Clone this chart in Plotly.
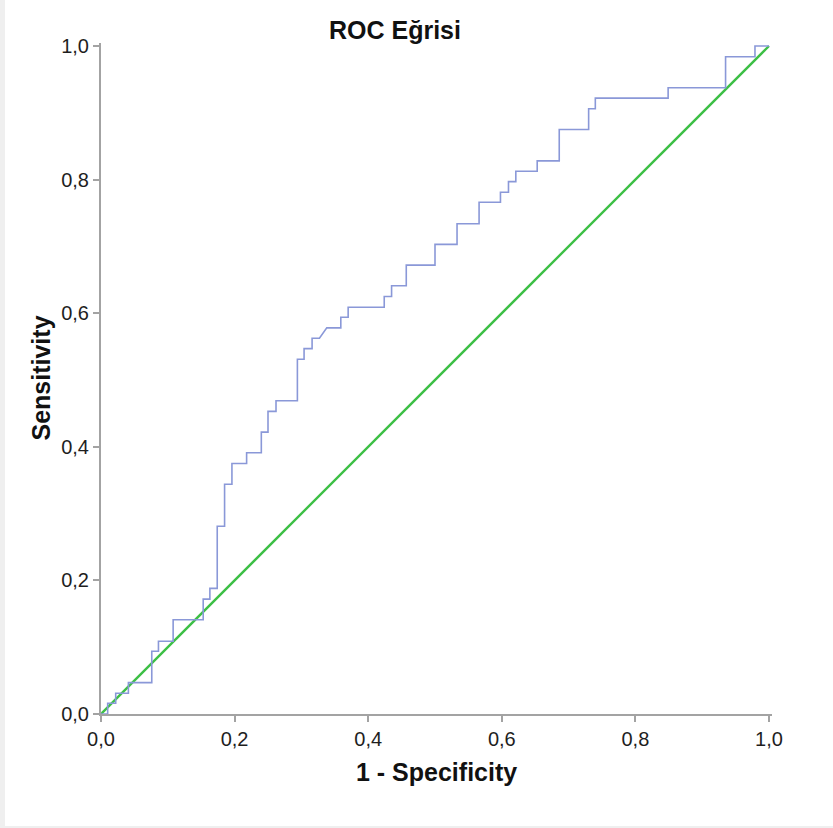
import plotly.graph_objects as go

# ROC operating points (1 - specificity, sensitivity)
fpr = [0.000, 0.010, 0.010, 0.022, 0.022, 0.041, 0.041, 0.076, 0.076, 0.086,
       0.086, 0.108, 0.108, 0.153, 0.153, 0.163, 0.163, 0.174, 0.174, 0.185,
       0.185, 0.196, 0.196, 0.218, 0.218, 0.240, 0.240, 0.250, 0.250, 0.262,
       0.262, 0.294, 0.294, 0.304, 0.304, 0.316, 0.316, 0.327, 0.338, 0.359,
       0.359, 0.370, 0.370, 0.424, 0.424, 0.435, 0.435, 0.457, 0.457, 0.500,
       0.500, 0.533, 0.533, 0.566, 0.566, 0.598, 0.598, 0.610, 0.610, 0.621,
       0.621, 0.653, 0.653, 0.686, 0.686, 0.730, 0.730, 0.740, 0.740, 0.849,
       0.849, 0.935, 0.935, 0.979, 0.979, 1.000]
tpr = [0.000, 0.000, 0.016, 0.016, 0.031, 0.031, 0.047, 0.047, 0.094, 0.094,
       0.109, 0.109, 0.141, 0.141, 0.172, 0.172, 0.188, 0.188, 0.281, 0.281,
       0.344, 0.344, 0.375, 0.375, 0.391, 0.391, 0.422, 0.422, 0.453, 0.453,
       0.469, 0.469, 0.531, 0.531, 0.547, 0.547, 0.5625, 0.5625, 0.578, 0.578,
       0.594, 0.594, 0.609, 0.609, 0.625, 0.625, 0.641, 0.641, 0.672, 0.672,
       0.703, 0.703, 0.734, 0.734, 0.766, 0.766, 0.781, 0.781, 0.797, 0.797,
       0.8125, 0.8125, 0.828, 0.828, 0.875, 0.875, 0.906, 0.906, 0.922, 0.922,
       0.9375, 0.9375, 0.984, 0.984, 1.000, 1.000]

# Reference line (chance)
ref_x = [0.0, 1.0]
ref_y = [0.0, 1.0]

tick_vals = [0.0, 0.2, 0.4, 0.6, 0.8, 1.0]
tick_text = ["0,0", "0,2", "0,4", "0,6", "0,8", "1,0"]

FONT = "Liberation Sans, Arial, sans-serif"
AXIS_GREY = "#a3a3a3"

fig = go.Figure()
fig.add_trace(go.Scatter(x=ref_x, y=ref_y, mode="lines",
                         line=dict(color="#3cbf45", width=2.4),
                         hoverinfo="skip", showlegend=False))
fig.add_trace(go.Scatter(x=fpr, y=tpr, mode="lines",
                         line=dict(color="#8a98d8", width=1.6),
                         showlegend=False))

axis_common = dict(
    tickmode="array", tickvals=tick_vals, ticktext=tick_text,
    showgrid=False, zeroline=False, showline=True,
    linecolor=AXIS_GREY, linewidth=2,
    ticks="outside", ticklen=6, tickwidth=1.5, tickcolor=AXIS_GREY,
    tickfont=dict(family=FONT, size=20, color="#1e1e1e"),
)

fig.update_layout(
    width=833, height=828,
    paper_bgcolor="white", plot_bgcolor="white",
    margin=dict(l=101, r=61, t=43, b=114),
    title=dict(text="<b>ROC Eğrisi</b>", x=395 / 833, y=1 - 30 / 828,
               xanchor="center", yanchor="middle",
               font=dict(family=FONT, size=25, color="#111111")),
    xaxis=dict(range=[0, 1.0045], **axis_common),
    yaxis=dict(range=[0, 1.0045], **axis_common),
    annotations=[
        dict(text="<b>1 - Specificity</b>", xref="paper", yref="paper",
             x=0.5, y=(714 - 772) / 671, xanchor="center", yanchor="middle",
             showarrow=False, font=dict(family=FONT, size=25, color="#111111")),
        dict(text="<b>Sensitivity</b>", xref="paper", yref="paper",
             x=(40 - 101) / 671, y=0.5, xanchor="center", yanchor="middle",
             textangle=-90, showarrow=False,
             font=dict(family=FONT, size=25, color="#111111")),
    ],
    shapes=[
        dict(type="rect", xref="paper", yref="paper", layer="below",
             x0=-101 / 671, x1=-96 / 671, y0=-114 / 671, y1=714 / 671,
             fillcolor="#efefef", line=dict(width=0)),
        dict(type="rect", xref="paper", yref="paper", layer="below",
             x0=-101 / 671, x1=732 / 671, y0=-114 / 671, y1=-112 / 671,
             fillcolor="#efefef", line=dict(width=0)),
    ],
)

fig.write_html("out.html")
